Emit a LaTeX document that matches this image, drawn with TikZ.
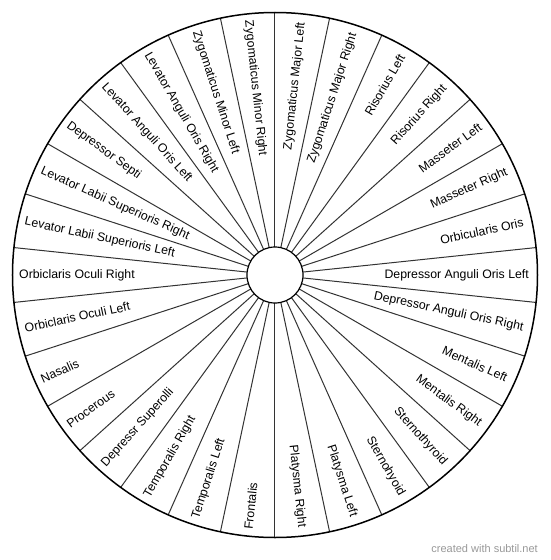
\documentclass[tikz,border=0pt]{standalone}
\usepackage{fontspec}
\setmainfont{Liberation Sans}
\begin{document}
\begin{tikzpicture}[x=1pt,y=1pt,
  spoke/.style={line width=1pt, draw=black!80},
  lab/.style={font=\fontsize{12.3}{14}\selectfont, inner sep=0pt, text=black},
  wmark/.style={font=\fontsize{11}{13}\selectfont, text=black!40, inner sep=0pt}]
\useasboundingbox (-275,-285) rectangle (275,275);
\fill[white] (-275,-285) rectangle (275,275);
\coordinate (O) at (0,0);
\foreach \k in {0,...,29} {
  \draw[spoke] (90-12*\k:28) -- (90-12*\k:262.5);
}
\draw[line width=1.5pt] (O) circle (262.5);
\draw[line width=1.2pt, fill=white] (O) circle (28);
\foreach \t [count=\i] in {Zygomaticus Major Left, Zygomaticus Major Right, Risorius Left, Risorius Right, Masseter Left, Masseter Right, Orbicularis Oris, Depressor Anguli Oris Left, Depressor Anguli Oris Right, Mentalis Left, Mentalis Right, Sternothyroid, Sternohyoid, Platysma Left, Platysma Right, Frontalis, Temporalis Left, Temporalis Right, Depressr Superolli, Procerous, Nasalis, Orbiclaris Oculi Left, Orbiclaris Oculi Right, Levator Labii Superioris Left, Levator Labii Superioris Right, Depressor Septi, Levator Anguli Oris Left, Levator Anguli Oris Right, Zygomaticus Minor Left, Zygomaticus Minor Right} {
  \pgfmathsetmacro\a{96-12*\i}
  \ifnum\i<16
    \node[lab, anchor=east, rotate=\a] (L\i) at (\a:254) {\t};
  \else
    \pgfmathsetmacro\b{\a+180}
    \node[lab, anchor=west, rotate=\b] (L\i) at (\a:256) {\t};
  \fi
}
\node[wmark, anchor=east] (wm) at (263,-274) {created with subtil.net};
\end{tikzpicture}
\end{document}
